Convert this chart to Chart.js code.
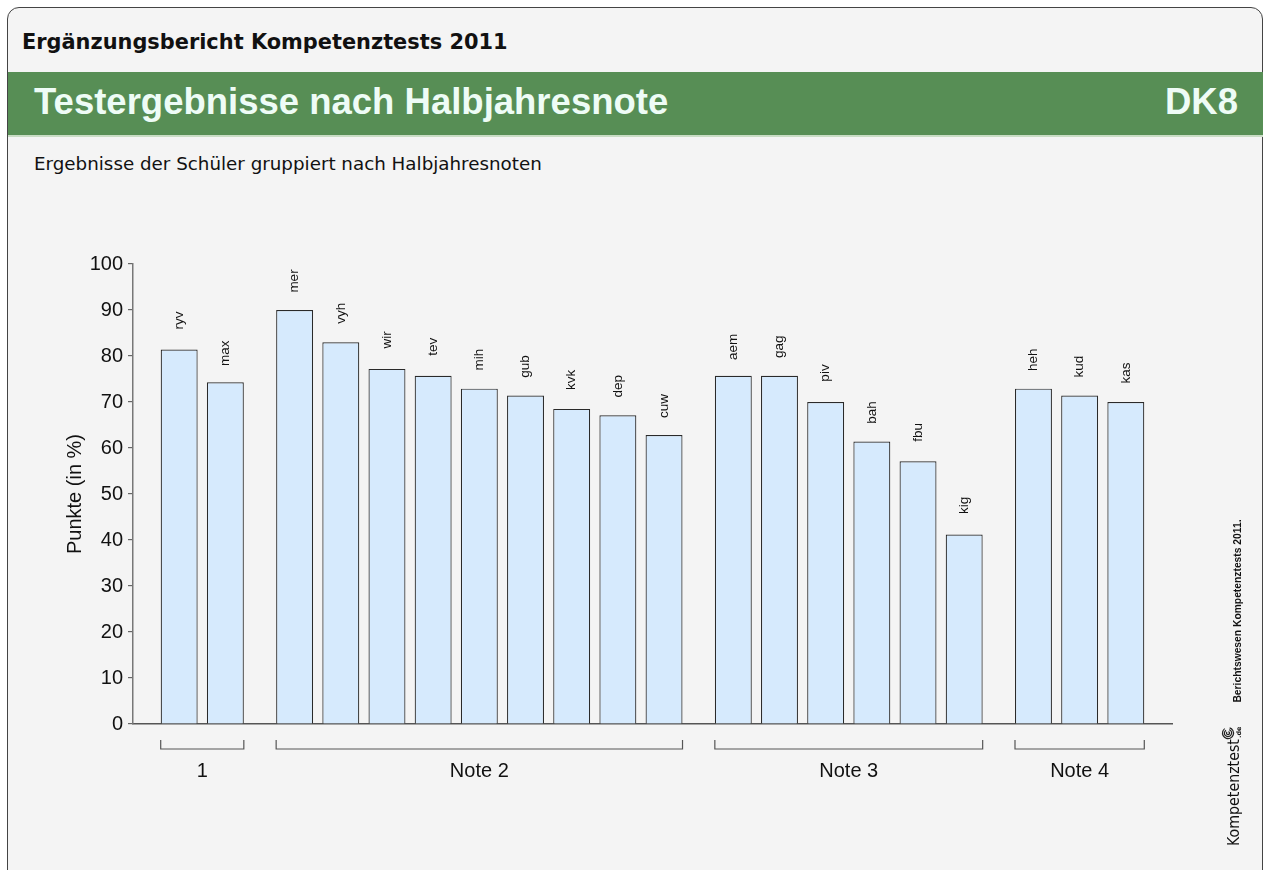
<!DOCTYPE html>
<html>
<head>
<meta charset="utf-8">
<script src="https://cdn.jsdelivr.net/npm/chart.js@4.4.1/dist/chart.umd.min.js"></script>
<style>
  html, body { margin: 0; padding: 0; background: #fff; }
  body { width: 1266px; height: 870px; position: relative; overflow: hidden; font-family: "Liberation Sans", Arial, sans-serif; }
  .card { position: absolute; left: 7px; top: 7px; width: 1254px; height: 900px; border: 1.5px solid #444; border-radius: 12px; background: #f4f4f4; }
  .report { position: absolute; left: 22px; top: 30px; font: bold 20.9px "DejaVu Sans", sans-serif; color: #111; }
  .band { position: absolute; left: 8px; top: 72px; width: 1255px; height: 63px; background: #578e55; border-bottom: 2px solid #c8dcc4; }
  .title { position: absolute; left: 34px; top: 81px; font: bold 36.5px "Liberation Sans", sans-serif; color: #eefcf6; }
  .code { position: absolute; right: 28px; top: 81px; font: bold 36.5px "Liberation Sans", sans-serif; color: #eefcf6; }
  .sub { position: absolute; left: 34px; top: 153px; font: 18.3px "DejaVu Sans", sans-serif; color: #111; }
  canvas { position: absolute; left: 0; top: 0; }
</style>
</head>
<body>
<div class="card"></div>
<div class="report">Ergänzungsbericht Kompetenztests 2011</div>
<div class="band"></div>
<div class="title">Testergebnisse nach Halbjahresnote</div>
<div class="code">DK8</div>
<div class="sub">Ergebnisse der Schüler gruppiert nach Halbjahresnoten</div>
<canvas id="chart" width="1266" height="870"></canvas>
<script>
// students in order, grouped by half-year grade
const students = ['ryv', 'max', 'mer', 'vyh', 'wir', 'tev', 'mih', 'gub', 'kvk', 'dep', 'cuw',
  'aem', 'gag', 'piv', 'bah', 'fbu', 'kig', 'heh', 'kud', 'kas'];
const scores = [81.4, 74.3, 90.0, 83.0, 77.2, 75.7, 72.9, 71.4, 68.5, 67.1, 62.8,
  75.7, 75.7, 70.0, 61.4, 57.1, 41.2, 72.9, 71.4, 70.0];
const groupLabels = ['1', 'Note 2', 'Note 3', 'Note 4'];
const groupSizes = [2, 9, 6, 3];
const yMin = 0, yMax = 100, yStep = 10;

// slot position of each bar: half a slot extra gap between groups
const groupOf = [];
groupSizes.forEach((n, g) => { for (let k = 0; k < n; k++) groupOf.push(g); });
const points = scores.map((v, i) => ({ x: i + groupOf[i] * 0.5, y: v }));

const barLabels = {
  id: 'barLabels',
  afterDatasetsDraw(chart) {
    const ctx = chart.ctx;
    const bars = chart.getDatasetMeta(0).data;
    ctx.save();
    ctx.fillStyle = '#111';
    ctx.font = '13.5px "Liberation Sans", sans-serif';
    ctx.textAlign = 'center';
    ctx.textBaseline = 'middle';
    bars.forEach((bar, i) => {
      ctx.save();
      ctx.translate(bar.x, bar.y - 29);
      ctx.rotate(-Math.PI / 2);
      ctx.fillText(students[i], 0, 0);
      ctx.restore();
    });

    // group brackets below the axis
    const base = chart.scales.y.getPixelForValue(0);
    ctx.strokeStyle = '#555';
    ctx.lineWidth = 1.2;
    ctx.font = '20px "Liberation Sans", sans-serif';
    let start = 0;
    groupSizes.forEach((n, g) => {
      const first = bars[start], last = bars[start + n - 1];
      const x0 = first.x - first.width / 2, x1 = last.x + last.width / 2;
      ctx.beginPath();
      ctx.moveTo(x0, base + 16);
      ctx.lineTo(x0, base + 25);
      ctx.lineTo(x1, base + 25);
      ctx.lineTo(x1, base + 16);
      ctx.stroke();
      ctx.fillText(groupLabels[g], (x0 + x1) / 2, base + 47);
      start += n;
    });
    ctx.restore();
  }
};

const sideNote = {
  id: 'sideNote',
  afterDraw(chart) {
    const ctx = chart.ctx;
    ctx.save();
    ctx.fillStyle = '#111';
    ctx.textAlign = 'center';
    ctx.textBaseline = 'middle';
    ctx.translate(1238, 611);
    ctx.rotate(-Math.PI / 2);
    ctx.font = 'bold 10.3px "Liberation Sans", sans-serif';
    ctx.fillText('Berichtswesen Kompetenztests 2011.', 0, 0);
    ctx.restore();

    ctx.save();
    ctx.fillStyle = '#111';
    ctx.translate(1235, 846);
    ctx.rotate(-Math.PI / 2);
    ctx.textBaseline = 'middle';
    ctx.font = '15.8px "DejaVu Sans Condensed", "DejaVu Sans", sans-serif';
    ctx.fillText('Kompetenztest', 0, 0);
    const w = ctx.measureText('Kompetenztest').width;
    ctx.font = 'bold 6.5px "DejaVu Sans", sans-serif';
    ctx.fillText('.de', w + 1, 4);
    // small swirl logo
    ctx.strokeStyle = '#222';
    ctx.lineWidth = 1.2;
    for (let r = 1.5; r <= 5.5; r += 2) {
      ctx.beginPath();
      ctx.arc(w + 6, -7, r, 0.3, Math.PI * 1.8);
      ctx.stroke();
    }
    ctx.restore();
  }
};

new Chart(document.getElementById('chart'), {
  type: 'bar',
  data: {
    datasets: [{
      data: points,
      backgroundColor: '#d6eafd',
      borderColor: '#2a2a2a',
      borderWidth: 1.2,
      categoryPercentage: 1,
      barPercentage: 0.8
    }]
  },
  options: {
    responsive: false,
    animation: false,
    layout: { padding: { left: 0, top: 264, right: 94, bottom: 146 } },
    plugins: { legend: { display: false }, tooltip: { enabled: false } },
    scales: {
      x: {
        type: 'linear',
        min: -1,
        max: 21.5,
        offset: false,
        grid: { display: false },
        ticks: { display: false },
        border: { display: true, color: '#555', width: 1.5 },
        afterFit(scale) { scale.height = 0; }
      },
      y: {
        min: yMin,
        max: yMax,
        ticks: { stepSize: yStep, color: '#111', font: { size: 20, family: '"Liberation Sans", sans-serif' }, padding: 5 },
        grid: { drawOnChartArea: false, drawTicks: true, tickLength: 5, color: '#666', lineWidth: 1.2 },
        border: { display: true, color: '#777', width: 1.5 },
        title: {
          display: true,
          text: 'Punkte (in %)',
          color: '#111',
          font: { size: 20, family: '"Liberation Sans", sans-serif' },
          padding: { top: 63 }
        },
        afterFit(scale) { scale.width = 133; }
      }
    }
  },
  plugins: [barLabels, sideNote]
});
</script>
</body>
</html>
